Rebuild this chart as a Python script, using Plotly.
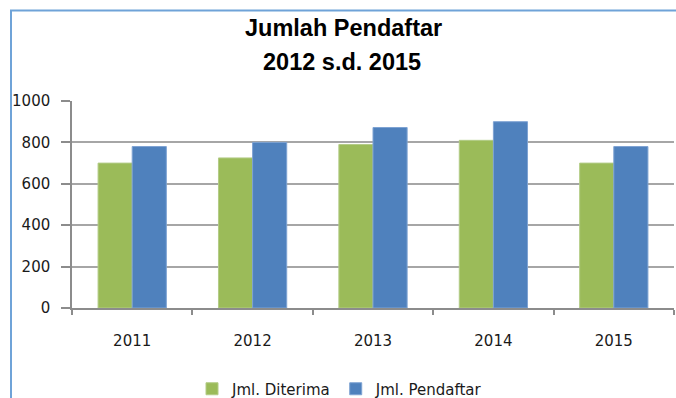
import plotly.graph_objects as go

years = ["2011", "2012", "2013", "2014", "2015"]
diterima = [700, 725, 790, 810, 700]
pendaftar = [780, 800, 872, 900, 780]

title_line1 = "Jumlah Pendaftar"
title_line2 = "2012 s.d. 2015"

W, H = 676, 398
ML, MR, MT, MB = 72, 2, 101, 90
plot_w = W - ML - MR
plot_h = H - MT - MB


def px_x(x):
    return (x - ML) / plot_w


def px_y(y):
    return (H - MB - y) / plot_h


fig = go.Figure()
fig.add_trace(go.Bar(
    x=years, y=diterima, name="Jml. Diterima",
    marker=dict(color="#9bbb59", line=dict(color="#b3cc86", width=1)),
))
fig.add_trace(go.Bar(
    x=years, y=pendaftar, name="Jml. Pendaftar",
    marker=dict(color="#4f81bd", line=dict(color="#7ea3d3", width=1)),
))

axis_font = dict(family="DejaVu Sans", size=15, color="#1a1a1a")

fig.update_layout(
    width=W, height=H,
    margin=dict(l=ML, r=MR, t=MT, b=MB, autoexpand=False),
    paper_bgcolor="white", plot_bgcolor="white",
    barmode="group", bargap=0.433, bargroupgap=0,
    showlegend=True,
    legend=dict(
        orientation="h", x=px_x(340), y=px_y(389), xanchor="center", yanchor="middle",
        font=dict(family="DejaVu Sans", size=15, color="#1a1a1a"),
        traceorder="normal",
    ),
    xaxis=dict(
        type="category", tickson="boundaries", ticks="outside", ticklen=5,
        tickcolor="#8c8c8c", tickwidth=1.5, showline=True, linecolor="#8c8c8c", linewidth=1.5,
        showgrid=False, tickfont=axis_font, ticklabelstandoff=18,
    ),
    yaxis=dict(
        range=[0, 1000], dtick=200, ticks="outside", ticklen=9,
        tickcolor="#8c8c8c", tickwidth=1.5, showline=True, linecolor="#8c8c8c", linewidth=1.5,
        showgrid=True, gridcolor="#a6a6a6", gridwidth=1.5, zeroline=False,
        tickfont=axis_font, ticklabelstandoff=8,
    ),
    hovermode=False,
)

title_font = dict(family="Liberation Sans", size=23.5, color="#000000")
fig.add_annotation(text="<b>" + title_line1 + "</b>", xref="paper", yref="paper",
                   x=px_x(343), y=px_y(28), xanchor="center", yanchor="middle",
                   showarrow=False, font=title_font)
fig.add_annotation(text="<b>" + title_line2 + "</b>", xref="paper", yref="paper",
                   x=px_x(342), y=px_y(62), xanchor="center", yanchor="middle",
                   showarrow=False, font=title_font)

# chart area frame (left and top edges)
frame = dict(color="#6fa3d8", width=2)
fig.add_shape(type="line", xref="paper", yref="paper",
              x0=px_x(11), x1=px_x(11), y0=px_y(10.5), y1=px_y(400), line=frame)
fig.add_shape(type="line", xref="paper", yref="paper",
              x0=px_x(10), x1=px_x(680), y0=px_y(10.5), y1=px_y(10.5), line=frame)

fig.write_html("out.html")
